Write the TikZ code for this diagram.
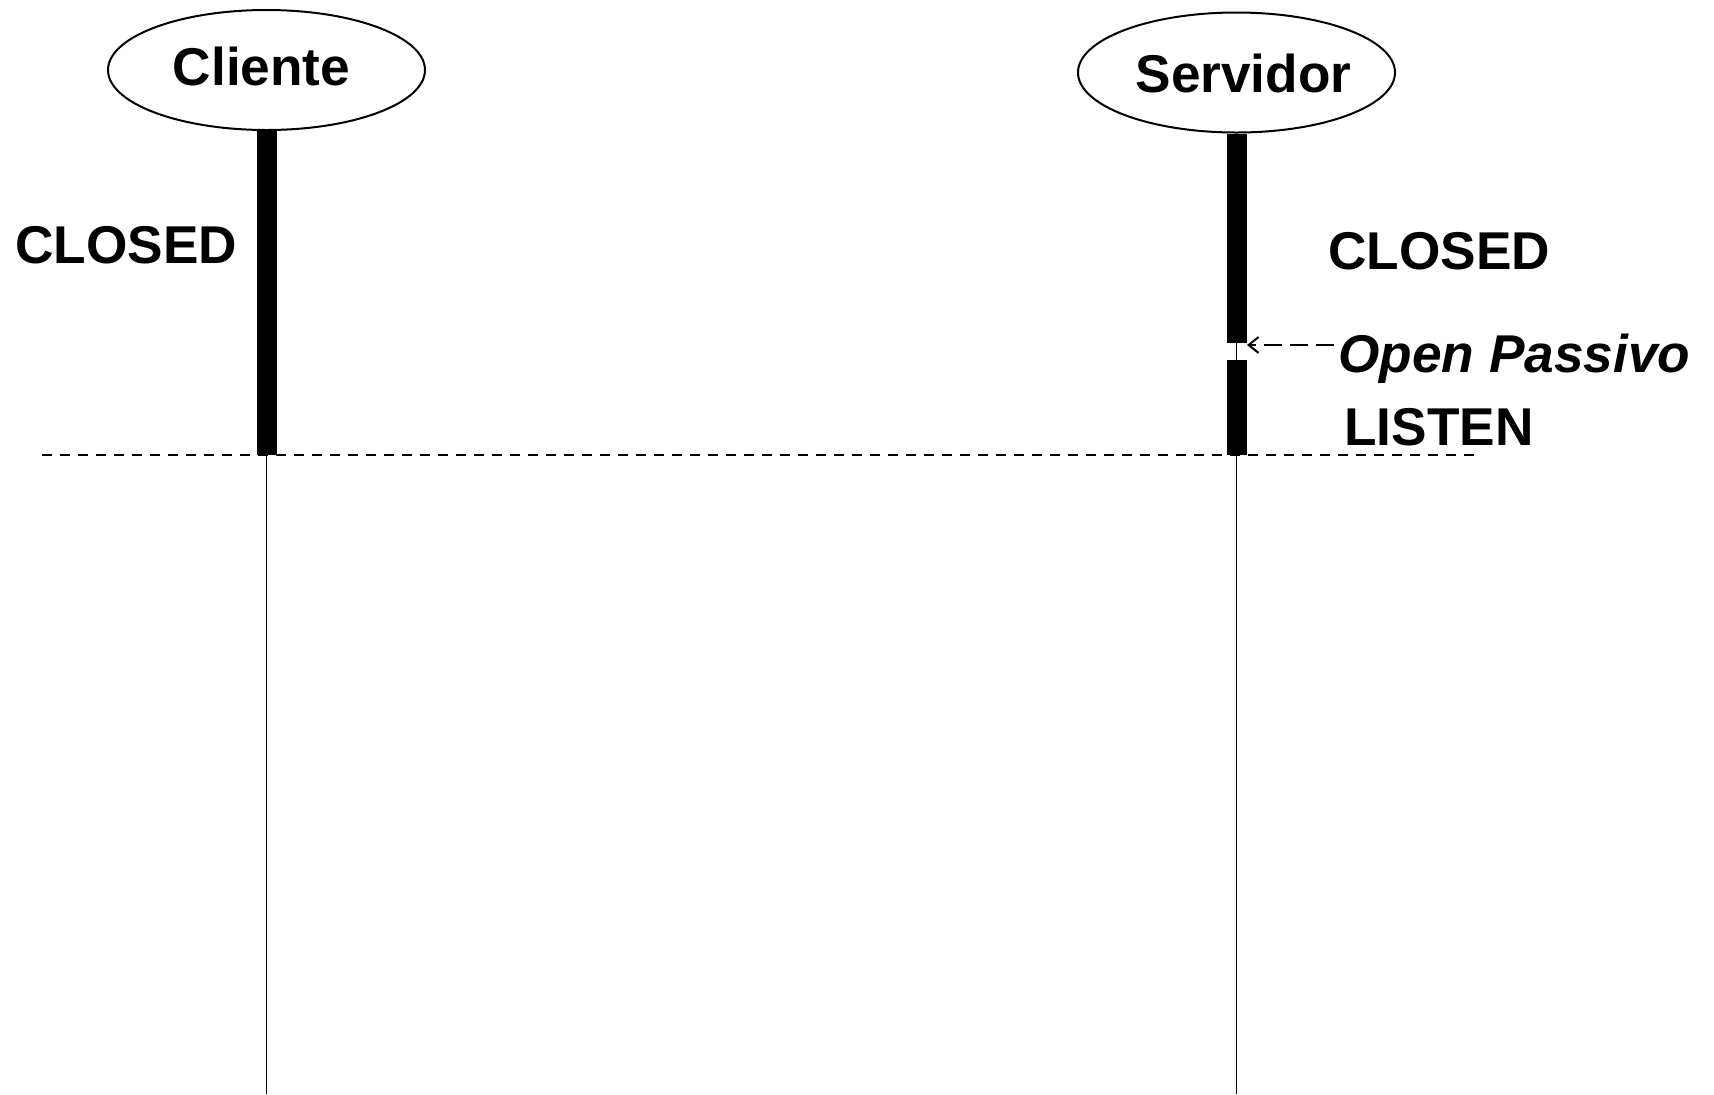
\documentclass[tikz,border=0pt]{standalone}
\usepackage{fontspec}
\setmainfont{Liberation Sans}
\usetikzlibrary{shapes.geometric, arrows.meta, positioning}

\begin{document}
\begin{tikzpicture}[x=0.5pt, y=-0.5pt, font=\fontsize{26.6}{30}\selectfont\bfseries,
    actor/.style={draw, ellipse, line width=1pt, minimum width=158.5pt, minimum height=60pt, inner sep=0pt},
    rotulo/.style={anchor=base, inner sep=0pt},
    estado/.style={anchor=base west, inner sep=0pt},
    barra/.style={line width=10pt},
    vida/.style={line width=0.9pt},
    corte/.style={line width=0.9pt, dash pattern=on 5pt off 4pt},
    seta/.style={line width=1pt, dash pattern=on 9pt off 4pt, -{Straight Barb[length=5pt, width=8pt]}}]
    \useasboundingbox (0,0) rectangle (1714,1094);
    % participantes
    \node[actor] (cli) at (266.5,70) {};
    \node[actor] (srv) at (1236.5,72.5) {};
    \node[rotulo] (clitxt) at (261.5,85) {Cliente};
    \node[rotulo] (srvtxt) at (1243.5,92) {Servidor};
    % pontos das linhas de vida
    \coordinate (clicorte) at (267,455);
    \coordinate (clifim) at (267,1094);
    \coordinate (srvopen) at (1237,343);
    \coordinate (srvlisten) at (1237,360);
    \coordinate (srvcorte) at (1237,455);
    \coordinate (srvfim) at (1237,1094);
    \draw[vida] (cli.south |- clifim) -- (cli.south);
    \draw[vida] (srv.south |- srvfim) -- (srv.south);
    \draw[barra] (cli.south) -- (cli.south |- clicorte);
    \draw[barra] (srv.south) -- (srv.south |- srvopen);
    \draw[barra] (srv.south |- srvlisten) -- (srv.south |- srvcorte);
    % estados
    \node[estado] (cliclosed) at (15,263) {CLOSED};
    \node[estado] (srvclosed) at (1328,269) {CLOSED};
    \node[estado] (srvpass) at (1338,372) {\itshape Open Passivo};
    \node[estado] (srvlst) at (1344,445) {LISTEN};
    \coordinate (passivo) at (1334,345);
    \coordinate (srvseta) at (1247,345);
    \draw[seta] (passivo) -- (srvseta);
    % linha de corte
    \coordinate (cortei) at (42,455);
    \coordinate (cortef) at (1480,455);
    \draw[corte] (cortei) -- (cortef);
\end{tikzpicture}
\end{document}
